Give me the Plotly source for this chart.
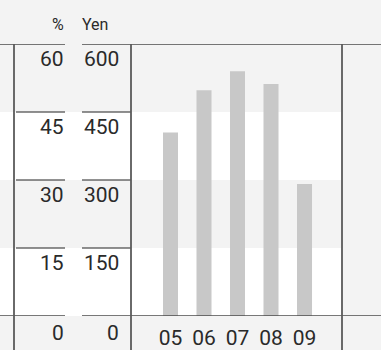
import plotly.graph_objects as go

# Fiscal years and values (yen), plus the paired axis scales
years = ["05", "06", "07", "08", "09"]
yen = [405, 498, 540, 512, 291]
pct_ticks = [0, 15, 30, 45, 60]
yen_ticks = [0, 150, 300, 450, 600]

W, H = 381, 350
FONT = "Roboto, Liberation Sans Narrow, sans-serif"
LINE = "#4a4a4a"
TXT = "#2a2a2a"

def px(x):
    return x / W

def py(y):
    return (H - y) / H

fig = go.Figure(
    go.Bar(
        x=years, y=yen, width=0.448,
        marker=dict(color="#c8c8c8", line=dict(width=0)),
        hoverinfo="x+y",
    )
)

shapes = []
# white bands between 0-15 and 30-45 (in % terms)
for lo, hi in [(0, 150), (300, 450)]:
    shapes.append(dict(type="rect", xref="paper", yref="y", x0=0, x1=px(341),
                       y0=lo, y1=hi, fillcolor="white", line=dict(width=0),
                       layer="below"))
# tick rules in both label columns
for v in yen_ticks[1:-1]:
    shapes.append(dict(type="line", xref="paper", yref="y", x0=px(16), x1=px(65),
                       y0=v, y1=v, line=dict(color="#222222", width=1)))
    shapes.append(dict(type="line", xref="paper", yref="y", x0=px(82), x1=px(131),
                       y0=v, y1=v, line=dict(color="#222222", width=1)))
# top and baseline rules
for v in (yen_ticks[0], yen_ticks[-1]):
    shapes.append(dict(type="line", xref="paper", yref="y", x0=0, x1=px(65),
                       y0=v, y1=v, line=dict(color=LINE, width=1.5)))
    shapes.append(dict(type="line", xref="paper", yref="y", x0=px(82), x1=1,
                       y0=v, y1=v, line=dict(color=LINE, width=1.5)))
# vertical rules
for xv in (14, 131, 342):
    shapes.append(dict(type="line", xref="paper", yref="paper", x0=px(xv), x1=px(xv),
                       y0=0, y1=py(44), line=dict(color="#5a5a5a", width=1.8)))

tick_font = dict(family=FONT, size=21, color=TXT)
annotations = []
for p, v in zip(pct_ticks, yen_ticks):
    shift = -3 if v == 0 else -1
    annotations.append(dict(xref="paper", yref="y", x=px(66), y=v, text=str(p),
                            xanchor="right", yanchor="top", yshift=shift,
                            showarrow=False, font=tick_font))
    annotations.append(dict(xref="paper", yref="y", x=px(121), y=v, text=str(v),
                            xanchor="right", yanchor="top", yshift=shift,
                            showarrow=False, font=tick_font))
head_font = dict(family=FONT, size=16, color=TXT)
annotations.append(dict(xref="paper", yref="paper", x=px(66), y=py(25), text="%",
                        xanchor="right", yanchor="middle", showarrow=False,
                        font=head_font))
annotations.append(dict(xref="paper", yref="paper", x=px(80), y=py(25), text="Yen",
                        xanchor="left", yanchor="middle", showarrow=False,
                        font=head_font))

fig.update_layout(
    width=W, height=H,
    margin=dict(l=0, r=0, t=0, b=0),
    paper_bgcolor="#f3f3f3",
    plot_bgcolor="rgba(0,0,0,0)",
    showlegend=False,
    shapes=shapes,
    annotations=annotations,
    xaxis=dict(domain=[px(131), px(342)], type="category", range=[-1.179, 5.119],
               showgrid=False, zeroline=False, showline=False, ticks="",
               tickfont=tick_font, ticklabelstandoff=7),
    yaxis=dict(domain=[py(316), py(44)], range=[0, 600], showgrid=False,
               zeroline=False, showline=False, showticklabels=False),
)

fig.write_html("out.html")
